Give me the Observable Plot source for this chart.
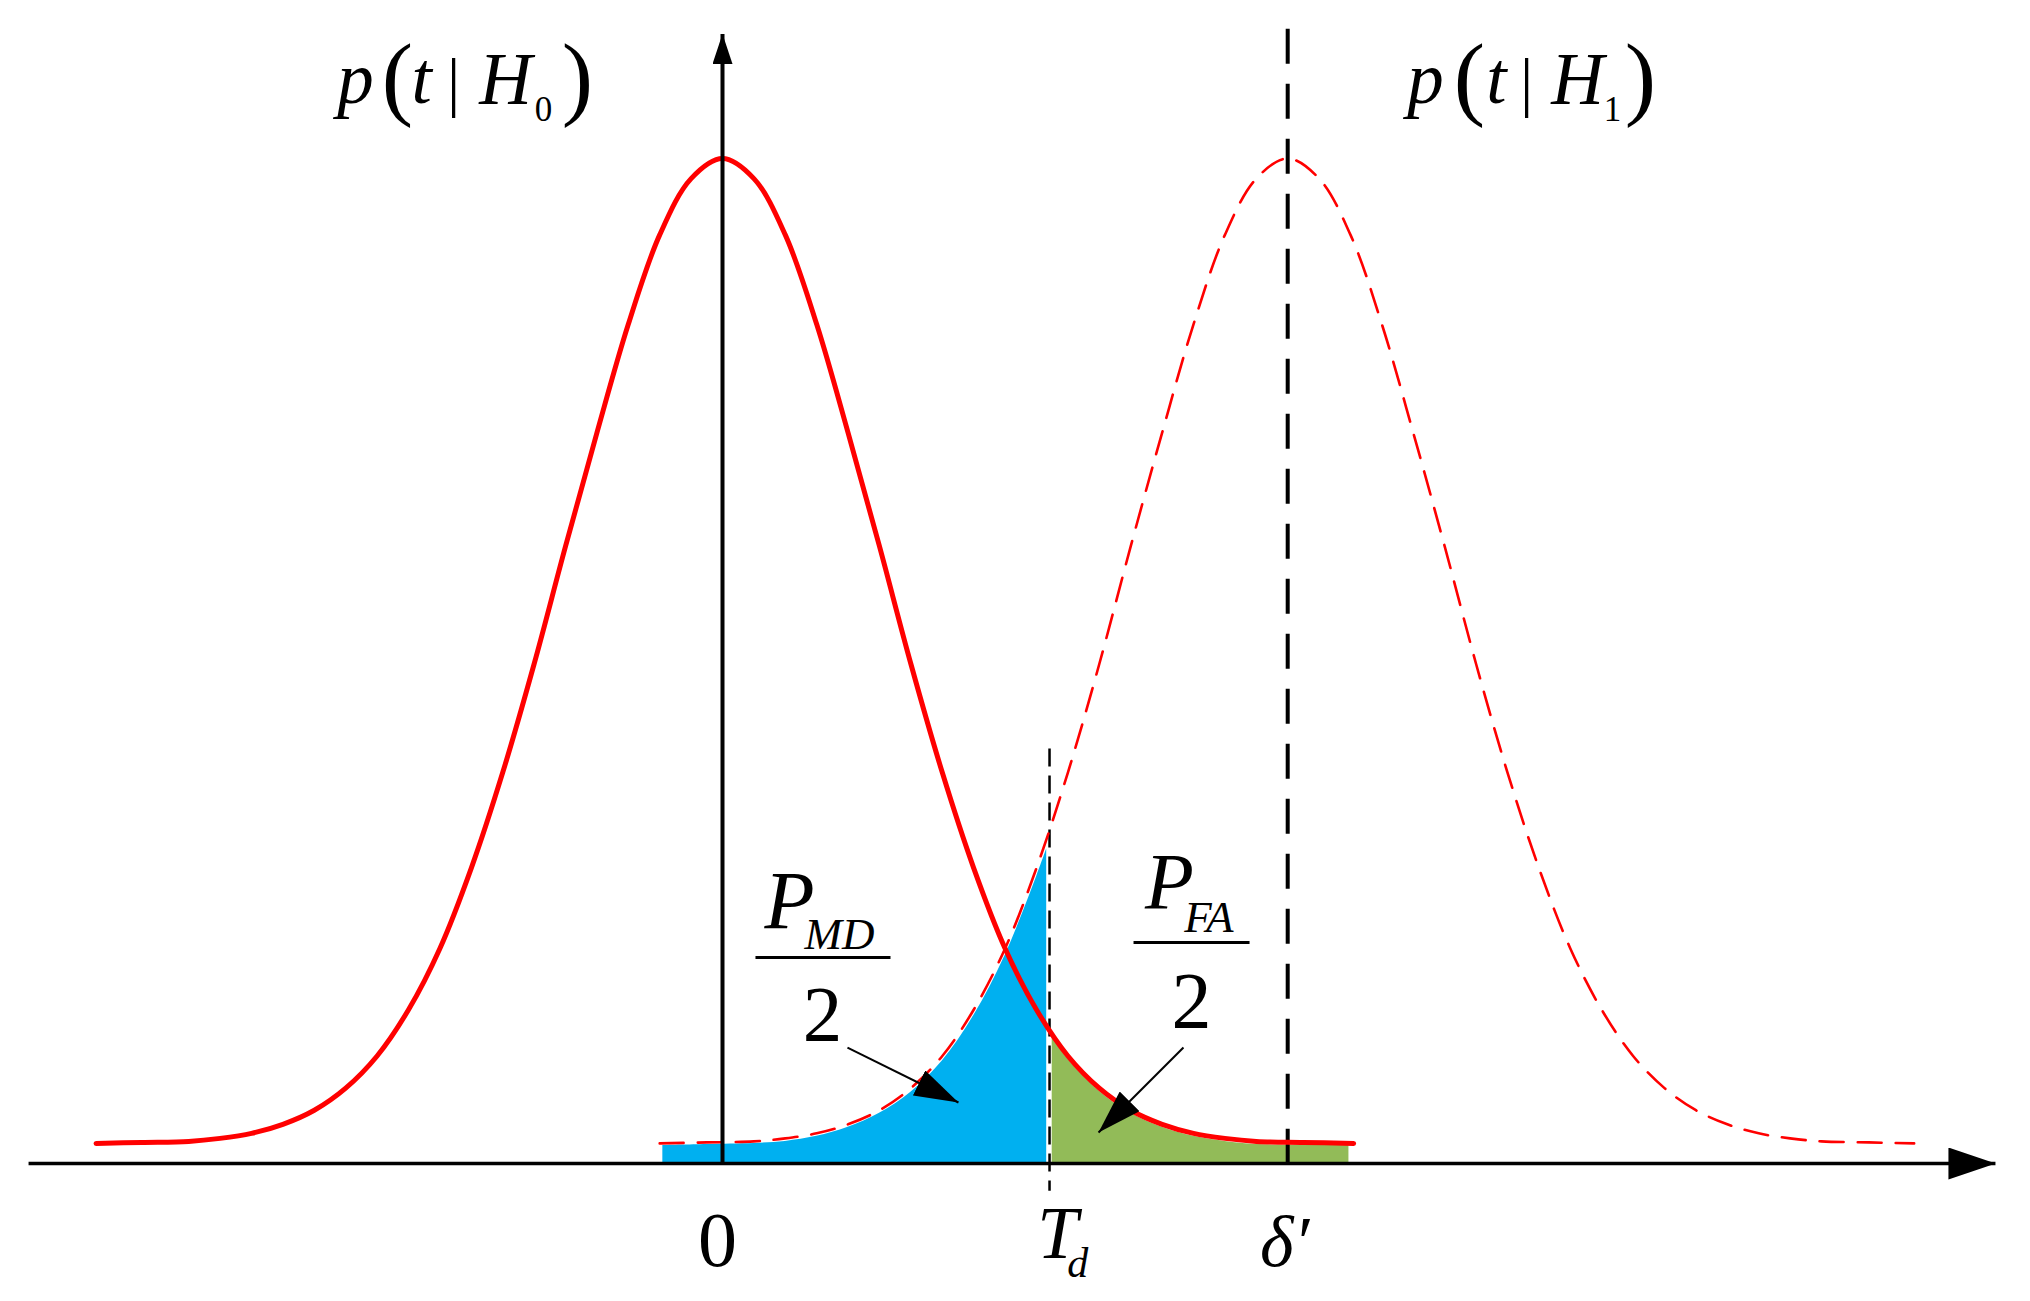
<!DOCTYPE html>
<html>
<head>
<meta charset="utf-8">
<script src="https://cdn.jsdelivr.net/npm/d3@7"></script>
<script src="https://cdn.jsdelivr.net/npm/@observablehq/plot@0.6"></script>
<style>
  html, body { margin: 0; padding: 0; background: #fff; overflow: hidden; }
  #chart svg { display: block; }
  #chart svg text { font-family: "Liberation Serif", "Times New Roman", Times, serif !important; }
</style>
</head>
<body>
<div id="chart"></div>
<script>
// ---------- data (x in units of sigma, y = density, axis at 0) ----------
// p(t|H0): solid red curve
const h0T = [-3.99, -3.70, -3.40, -3.20, -3.00, -2.80, -2.60, -2.40, -2.20, -2.00, -1.80, -1.60, -1.40, -1.20, -1.00, -0.80, -0.60, -0.40, -0.20, 0.00,
             0.20, 0.40, 0.60, 0.80, 1.00, 1.20, 1.40, 1.60, 1.80, 2.00, 2.20, 2.40, 2.60, 2.80, 3.00, 3.20, 3.40, 3.70, 4.02];
const h0P = [0.020, 0.021, 0.022, 0.025, 0.030, 0.039, 0.053, 0.075, 0.107, 0.153, 0.214, 0.294, 0.389, 0.497, 0.614, 0.727, 0.835, 0.924, 0.980, 1.000,
             0.980, 0.924, 0.835, 0.727, 0.614, 0.497, 0.389, 0.294, 0.214, 0.153, 0.107, 0.075, 0.053, 0.039, 0.030, 0.025, 0.022, 0.021, 0.020];
// p(t|H1): dashed red curve
const h1T = [-0.40, -0.10, 0.20, 0.40, 0.60, 0.80, 1.00, 1.20, 1.40, 1.60, 1.80, 2.00, 2.20, 2.40, 2.60, 2.80, 3.00, 3.20, 3.40, 3.60,
             3.80, 4.00, 4.20, 4.40, 4.60, 4.80, 5.00, 5.20, 5.40, 5.60, 5.80, 6.00, 6.20, 6.40, 6.60, 6.80, 7.00, 7.30, 7.59];
const h1P = [0.020, 0.021, 0.022, 0.025, 0.030, 0.039, 0.053, 0.075, 0.107, 0.153, 0.214, 0.294, 0.389, 0.497, 0.614, 0.727, 0.835, 0.924, 0.980, 1.000,
             0.980, 0.924, 0.835, 0.727, 0.614, 0.497, 0.389, 0.294, 0.214, 0.153, 0.107, 0.075, 0.053, 0.039, 0.030, 0.025, 0.022, 0.021, 0.020];
// shaded P_MD/2 region (blue) and P_FA/2 region (green)
const mdT = [-0.38, -0.10, 0.20, 0.40, 0.60, 0.80, 1.00, 1.20, 1.40, 1.60, 1.80, 2.00, 2.065];
const mdP = [0.018, 0.019, 0.020, 0.022, 0.027, 0.036, 0.050, 0.071, 0.102, 0.147, 0.207, 0.285, 0.313];
const faT = [2.10, 2.20, 2.40, 2.60, 2.80, 3.00, 3.20, 3.40, 3.70, 3.99];
const faP = [0.126, 0.104, 0.072, 0.050, 0.036, 0.027, 0.022, 0.019, 0.018, 0.018];
// key abscissae
const deltaPrime = 3.60;
const threshold = 2.083;
// text
const h0Label = ["p", "(", "t", "|", "H", "0", ")"];
const h1Label = ["p", "(", "t", "|", "H", "1", ")"];
const tickText = ["0", "T", "d", "δ′"];
const mdText = ["P", "MD", "2"];
const faText = ["P", "FA", "2"];

// ---------- tables built from the arrays ----------
const rows = (xs, ys) => xs.map((x, i) => ({x, y: ys[i]}));
const h0 = rows(h0T, h0P), h1 = rows(h1T, h1P), md = rows(mdT, mdP), fa = rows(faT, faP);

// layout of the typeset labels (data coordinates)
const IT = true, UP = false;
const labelLayout = [
  // p(t|H0)
  {s: h0Label[0], x: -2.338, y: 1.0557, size: 73, it: IT},
  {s: h0Label[1], x: -2.070, y: 1.0498, size: 94, it: UP},
  {s: h0Label[2], x: -1.917, y: 1.0557, size: 73, it: IT},
  {s: h0Label[3], x: -1.713, y: 1.0547, size: 66, it: UP},
  {s: h0Label[4], x: -1.382, y: 1.0547, size: 73, it: IT},
  {s: h0Label[5], x: -1.140, y: 1.0378, size: 35, it: UP},
  {s: h0Label[6], x: -0.924, y: 1.0498, size: 94, it: UP},
  // p(t|H1)
  {s: h1Label[0], x: 4.478, y: 1.0557, size: 73, it: IT},
  {s: h1Label[1], x: 4.758, y: 1.0498, size: 94, it: UP},
  {s: h1Label[2], x: 4.930, y: 1.0557, size: 73, it: IT},
  {s: h1Label[3], x: 5.121, y: 1.0547, size: 66, it: UP},
  {s: h1Label[4], x: 5.446, y: 1.0547, size: 73, it: IT},
  {s: h1Label[5], x: 5.669, y: 1.0378, size: 35, it: UP},
  {s: h1Label[6], x: 5.847, y: 1.0498, size: 94, it: UP},
  // axis labels
  {s: tickText[0], x: -0.032, y: -0.1015, size: 78, it: UP},
  {s: tickText[1], x: 2.134, y: -0.0945, size: 73, it: IT},
  {s: tickText[2], x: 2.262, y: -0.1134, size: 42, it: IT},
  {s: tickText[3], x: 3.580, y: -0.1015, size: 72, it: IT},
  // P_MD / 2
  {s: mdText[0], x: 0.427, y: 0.2348, size: 82, it: IT},
  {s: mdText[1], x: 0.745, y: 0.2139, size: 45, it: IT},
  {s: mdText[2], x: 0.637, y: 0.1224, size: 79, it: UP},
  // P_FA / 2
  {s: faText[0], x: 2.847, y: 0.2537, size: 80, it: IT},
  {s: faText[1], x: 3.098, y: 0.2308, size: 45, it: IT},
  {s: faText[2], x: 2.987, y: 0.1353, size: 80, it: UP}
];
const fracBars = [
  {x1: 0.210, x2: 1.070, y: 0.205},
  {x1: 2.618, x2: 3.357, y: 0.2199}
];
const xAxisLine = [{x1: -4.42, y1: 0, x2: 8.108, y2: 0}];
const yAxisLine = [{x1: 0, y1: 0, x2: 0, y2: 1.124}];
const pointers = [
  {x1: 0.796, y1: 0.1154, x2: 1.503, y2: 0.0607},
  {x1: 2.936, y1: 0.1154, x2: 2.395, y2: 0.0308}
];

const serif = "Liberation Serif";
const W = 2030, H = 1301;
const pxPerX = 157, pxPerY = 1005, x0px = 722, y0px = 1163;

const chart = Plot.plot({
  width: W, height: H,
  marginTop: 0, marginRight: 0, marginBottom: 0, marginLeft: 0,
  style: {background: "white", overflow: "visible", maxWidth: "none"},
  x: {domain: [-x0px / pxPerX, (W - x0px) / pxPerX], axis: null},
  y: {domain: [-(H - y0px) / pxPerY, y0px / pxPerY], axis: null},
  marks: [
    Plot.areaY(md, {x: "x", y1: 0, y2: "y", fill: "#00B0F0", curve: "catmull-rom"}),
    Plot.areaY(fa, {x: "x", y1: 0, y2: "y", fill: "#92BB58", curve: "catmull-rom"}),
    Plot.link([{x: threshold}], {x1: "x", x2: "x", y1: () => 0.413, y2: () => -0.027,
      stroke: "black", strokeWidth: 2.5, strokeDasharray: "18,9"}),
    Plot.link([{x: deltaPrime}], {x1: "x", x2: "x", y1: () => 1.129, y2: () => 0,
      stroke: "black", strokeWidth: 4, strokeDasharray: "35,20"}),
    Plot.line(h1, {x: "x", y: "y", stroke: "#FF0000", strokeWidth: 2.6, strokeDasharray: "24,14", curve: "catmull-rom"}),
    Plot.line(h0, {x: "x", y: "y", stroke: "#FF0000", strokeWidth: 5, curve: "catmull-rom"}),
    Plot.link(xAxisLine, {x1: "x1", y1: "y1", x2: "x2", y2: "y2", stroke: "#010101", strokeWidth: 3.5, ariaDescription: "head-x"}),
    Plot.link(yAxisLine, {x1: "x1", y1: "y1", x2: "x2", y2: "y2", stroke: "#020202", strokeWidth: 4, ariaDescription: "head-y"}),
    Plot.link(pointers, {x1: "x1", y1: "y1", x2: "x2", y2: "y2", stroke: "#030303", strokeWidth: 2, ariaDescription: "head-a"}),
    Plot.link(fracBars, {x1: "x1", x2: "x2", y1: "y", y2: "y", stroke: "black", strokeWidth: 3}),
    Plot.text(labelLayout.filter(d => d.it), {x: "x", y: "y", text: "s", fontSize: d => d.size,
      fontFamily: serif, fontStyle: "italic", textAnchor: "middle", lineAnchor: "bottom", fill: "black"}),
    Plot.text(labelLayout.filter(d => !d.it), {x: "x", y: "y", text: "s", fontSize: d => d.size,
      fontFamily: serif, textAnchor: "middle", lineAnchor: "bottom", fill: "black"})
  ]
});

// filled triangular arrowheads
const ns = "http://www.w3.org/2000/svg";
const defs = document.createElementNS(ns, "defs");
function head(id, L, Wd) {
  const m = document.createElementNS(ns, "marker");
  m.setAttribute("id", id);
  m.setAttribute("viewBox", `0 0 ${L} ${Wd}`);
  m.setAttribute("markerWidth", L);
  m.setAttribute("markerHeight", Wd);
  m.setAttribute("refX", L);
  m.setAttribute("refY", Wd / 2);
  m.setAttribute("orient", "auto");
  m.setAttribute("markerUnits", "userSpaceOnUse");
  const p = document.createElementNS(ns, "path");
  p.setAttribute("d", `M0,0L${L},${Wd / 2}L0,${Wd}Z`);
  p.setAttribute("fill", "black");
  p.setAttribute("stroke", "none");
  m.appendChild(p);
  defs.appendChild(m);
}
head("head-x", 47, 32);
head("head-y", 30, 20);
head("head-a", 44, 28);
chart.insertBefore(defs, chart.firstChild);
for (const [id, col] of [["head-x", "#010101"], ["head-y", "#020202"], ["head-a", "#030303"]]) {
  let els = chart.querySelectorAll(`[aria-description="${id}"] path, [aria-description="${id}"] line`);
  if (!els.length) els = chart.querySelectorAll(`g[stroke="${col}"] path, g[stroke="${col}"] line`);
  els.forEach(e => e.setAttribute("marker-end", `url(#${id})`));
}

document.getElementById("chart").appendChild(chart);
</script>
</body>
</html>
